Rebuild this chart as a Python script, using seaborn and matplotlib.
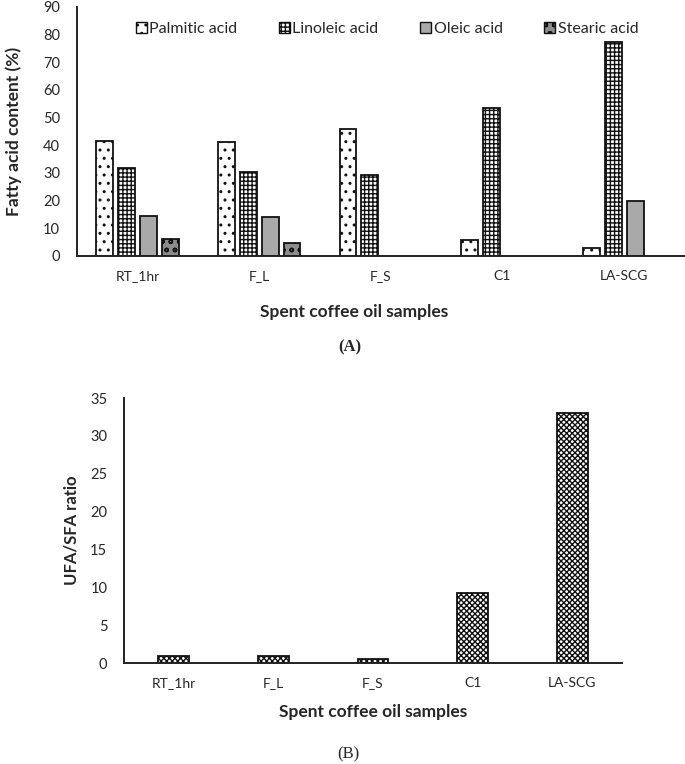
"""
Spent coffee oil - fatty acid profile (A) and UFA/SFA ratio (B)
"""

import pandas as pd
import matplotlib.pyplot as plt
import seaborn as sns
from matplotlib.patches import Patch

# ---------- DATA ----------
samples = ["RT_1hr", "F_L", "F_S", "C1", "LA-SCG"]
acids = ["Palmitic acid", "Linoleic acid", "Oleic acid", "Stearic acid"]

palmitic = [41.7, 41.1, 46.0, 5.6, 2.7]
linoleic = [31.9, 30.3, 29.1, 53.4, 77.4]
oleic = [14.4, 13.9, 0.0, 0.0, 19.8]
stearic = [6.1, 4.8, 0.0, 0.0, 0.0]

ufa_sfa = [1.0, 1.0, 0.6, 9.2, 33.0]

# long form table for seaborn
rows = []
for acid, vals in zip(acids, [palmitic, linoleic, oleic, stearic]):
    for s, v in zip(samples, vals):
        rows.append({"sample": s, "acid": acid, "value": v})
df = pd.DataFrame(rows)
df_ratio = pd.DataFrame({"sample": samples, "ratio": ufa_sfa})

# ---------- STYLE ----------
sns.set_style("white")
plt.rcParams["font.family"] = ["Lato", "DejaVu Sans"]
plt.rcParams["hatch.linewidth"] = 1.0

faces = ["white", "white", "#a9a9a9", "#8c8c8c"]
hatches = ["..", "++++", "", "oo"]

fig = plt.figure(figsize=(6.85, 7.64), dpi=100)

# ---------- PANEL A ----------
ax1 = fig.add_axes([0.112, 0.665, 0.888, 0.326])
sns.barplot(data=df, x="sample", y="value", hue="acid", order=samples,
            hue_order=acids, width=0.72, gap=0.23, ax=ax1, legend=False,
            color="white", edgecolor="black", linewidth=1.3)

for cont, fc, h in zip(ax1.containers, faces, hatches):
    for bar in cont:
        bar.set_facecolor(fc)
        bar.set_hatch(h)
        bar.set_edgecolor("#111111")
        if bar.get_height() == 0:
            bar.set_visible(False)

ax1.set_ylim(0, 90)
ax1.set_yticks(range(0, 91, 10))
ax1.set_xlim(-0.5, 4.5)
ax1.set_xlabel("")
ax1.set_ylabel("Fatty acid content (%)", fontsize=12.5, fontweight="bold")
ax1.yaxis.set_label_coords(-0.09, 0.5)
ax1.tick_params(axis="both", labelsize=10.5, length=0, pad=12)
ax1.tick_params(axis="x", labelsize=10, pad=10)
sns.despine(ax=ax1)
for sp in ["left", "bottom"]:
    ax1.spines[sp].set_color("#222222")
    ax1.spines[sp].set_linewidth(1.4)

handles = [Patch(facecolor=fc, edgecolor="#111111", hatch=h, label=a)
           for fc, h, a in zip(faces, hatches, acids)]
ax1.legend(handles=handles, loc="center", bbox_to_anchor=(0.51, 0.912),
           ncol=4, frameon=False, fontsize=11.5, handlelength=0.7,
           handleheight=0.7, handletextpad=0.15, columnspacing=2.6)

fig.text(0.517, 0.591, "Spent coffee oil samples", ha="center", va="center",
         fontsize=12.5, fontweight="bold")
fig.text(0.511, 0.545, "(A)", ha="center", va="center", fontsize=12,
         fontweight="bold", family="Liberation Serif")

# ---------- PANEL B ----------
ax2 = fig.add_axes([0.181, 0.132, 0.727, 0.347])
sns.barplot(data=df_ratio, x="sample", y="ratio", order=samples, width=0.31,
            color="white", edgecolor="#111111", linewidth=1.3, ax=ax2)
for bar in ax2.patches:
    bar.set_hatch("xxxxxx")

ax2.set_ylim(0, 35)
ax2.set_yticks(range(0, 36, 5))
ax2.set_xlim(-0.5, 4.5)
ax2.set_xlabel("")
ax2.set_ylabel("UFA/SFA ratio", fontsize=12, fontweight="bold")
ax2.yaxis.set_label_coords(-0.09, 0.5)
ax2.tick_params(axis="both", labelsize=10.5, length=0, pad=12)
ax2.tick_params(axis="x", labelsize=10, pad=10)
sns.despine(ax=ax2)
for sp in ["left", "bottom"]:
    ax2.spines[sp].set_color("#222222")
    ax2.spines[sp].set_linewidth(1.4)

fig.text(0.545, 0.068, "Spent coffee oil samples", ha="center", va="center",
         fontsize=12.5, fontweight="bold")
fig.text(0.508, 0.012, "(B)", ha="center", va="center", fontsize=12,
         family="Liberation Serif")

plt.savefig("out.png", dpi=100)
plt.close()
